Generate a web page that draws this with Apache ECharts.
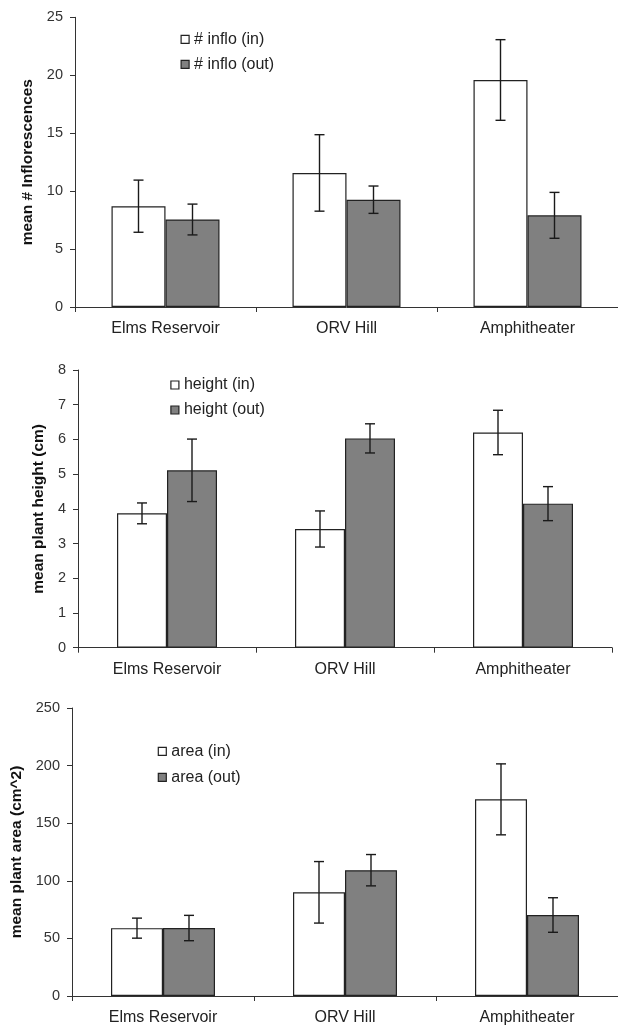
<!DOCTYPE html>
<html>
<head>
<meta charset="utf-8">
<script src="https://cdn.jsdelivr.net/npm/echarts@6/dist/echarts.min.js"></script>
<style>
html,body{margin:0;padding:0;background:#fff;}
#chart{width:618px;height:1028px;}
</style>
</head>
<body>
<div id="chart"></div>
<script>
// ---- data ----
const sites = ['Elms Reservoir', 'ORV Hill', 'Amphitheater'];

const infloIn = [8.7, 11.57, 19.59];
const infloInErr = [2.25, 3.3, 3.48];
const infloOut = [7.55, 9.26, 7.91];
const infloOutErr = [1.33, 1.18, 1.98];

const heightIn = [3.87, 3.42, 6.2];
const heightInErr = [0.3, 0.52, 0.64];
const heightOut = [5.11, 6.03, 4.15];
const heightOutErr = [0.9, 0.42, 0.49];

const areaIn = [58.9, 90.0, 170.7];
const areaInErr = [8.7, 26.7, 30.8];
const areaOut = [59.0, 109.2, 70.3];
const areaOutErr = [11.0, 13.6, 15.0];

const panelNames = [
  ['# inflo (in)', '# inflo (out)'],
  ['height (in)', 'height (out)'],
  ['area (in)', 'area (out)']
];
const yTitles = ['mean # Inflorescences', 'mean plant height (cm)', 'mean plant area (cm^2)'];
const yMax = [25, 8, 250];
const yInterval = [5, 1, 50];

// ---- layout / style ----
const FONT = "'Liberation Sans', Arial, sans-serif";
const AX = '#333';
const grids = [
  {left: 75, top: 17.3, width: 551, height: 289.7},
  {left: 78, top: 370, width: 534, height: 277.7},
  {left: 72, top: 708, width: 549, height: 288}
];
const barW = [54, 50, 52];
const nameGaps = [39, 30, 42];
const legendPos = [
  {left: 180.5, top: 31.3, gap: 9},
  {left: 170.3, top: 377, gap: 9},
  {left: 157.7, top: 743.3, gap: 10}
];

const panels = [
  [infloIn, infloInErr, infloOut, infloOutErr],
  [heightIn, heightInErr, heightOut, heightOutErr],
  [areaIn, areaInErr, areaOut, areaOutErr]
];

const inStyle = {color: '#ffffff', borderColor: '#222', borderWidth: 1.2};
const outStyle = {color: '#808080', borderColor: '#222', borderWidth: 1.2};

function errData(vals, errs) {
  return vals.map((v, i) => [i, v - errs[i], v + errs[i]]);
}
function errSeries(p, vals, errs, offset) {
  return {
    type: 'custom',
    xAxisIndex: p, yAxisIndex: p,
    z: 5,
    silent: true,
    data: errData(vals, errs),
    encode: {x: 0, y: [1, 2]},
    renderItem: function (params, api) {
      const idx = api.value(0);
      const lo = api.coord([idx, api.value(1)]);
      const hi = api.coord([idx, api.value(2)]);
      const x = lo[0] + offset;
      const cap = 5;
      const st = {stroke: '#1a1a1a', lineWidth: 1.4};
      return {
        type: 'group',
        children: [
          {type: 'line', shape: {x1: x, y1: lo[1], x2: x, y2: hi[1]}, style: st},
          {type: 'line', shape: {x1: x - cap, y1: hi[1], x2: x + cap, y2: hi[1]}, style: st},
          {type: 'line', shape: {x1: x - cap, y1: lo[1], x2: x + cap, y2: lo[1]}, style: st}
        ]
      };
    }
  };
}

const option = {
  animation: false,
  backgroundColor: '#fff',
  textStyle: {fontFamily: FONT},
  grid: grids.map(g => Object.assign({containLabel: false}, g)),
  xAxis: grids.map((g, p) => ({
    type: 'category',
    gridIndex: p,
    data: sites,
    axisLine: {lineStyle: {color: AX, width: 1}},
    axisTick: {show: true, length: 5, lineStyle: {color: AX}},
    axisLabel: {color: '#222', fontSize: 16, fontFamily: FONT, margin: 14}
  })),
  yAxis: grids.map((g, p) => ({
    type: 'value',
    gridIndex: p,
    min: 0, max: yMax[p], interval: yInterval[p],
    name: yTitles[p],
    nameLocation: 'middle',
    nameRotate: 90,
    nameGap: nameGaps[p],
    nameTextStyle: {color: '#111', fontSize: 15.5, fontWeight: 'bold', fontFamily: FONT},
    splitLine: {show: false},
    axisLine: {show: true, lineStyle: {color: AX, width: 1}},
    axisTick: {show: true, length: 5, lineStyle: {color: AX}},
    axisLabel: {color: '#333', fontSize: 14.5, fontFamily: FONT, margin: 12}
  })),
  legend: legendPos.map((l, p) => ({
    orient: 'vertical',
    left: l.left, top: l.top,
    padding: 0,
    itemGap: l.gap,
    itemWidth: 8, itemHeight: 8,
    icon: 'rect',
    selectedMode: false,
    textStyle: {color: '#222', fontSize: 16, fontFamily: FONT, lineHeight: 16},
    data: [
      {name: panelNames[p][0], itemStyle: inStyle},
      {name: panelNames[p][1], itemStyle: outStyle}
    ]
  })),
  series: []
};

panels.forEach((d, p) => {
  option.series.push({
    type: 'bar', name: panelNames[p][0], xAxisIndex: p, yAxisIndex: p,
    data: d[0], barWidth: barW[p], barGap: '0%', itemStyle: inStyle
  });
  option.series.push({
    type: 'bar', name: panelNames[p][1], xAxisIndex: p, yAxisIndex: p,
    data: d[2], barWidth: barW[p], barGap: '0%', itemStyle: outStyle
  });
  option.series.push(errSeries(p, d[0], d[1], -barW[p] / 2));
  option.series.push(errSeries(p, d[2], d[3], barW[p] / 2));
});

const chart = echarts.init(document.getElementById('chart'), null, {renderer: 'canvas'});
chart.setOption(option);
</script>
</body>
</html>
